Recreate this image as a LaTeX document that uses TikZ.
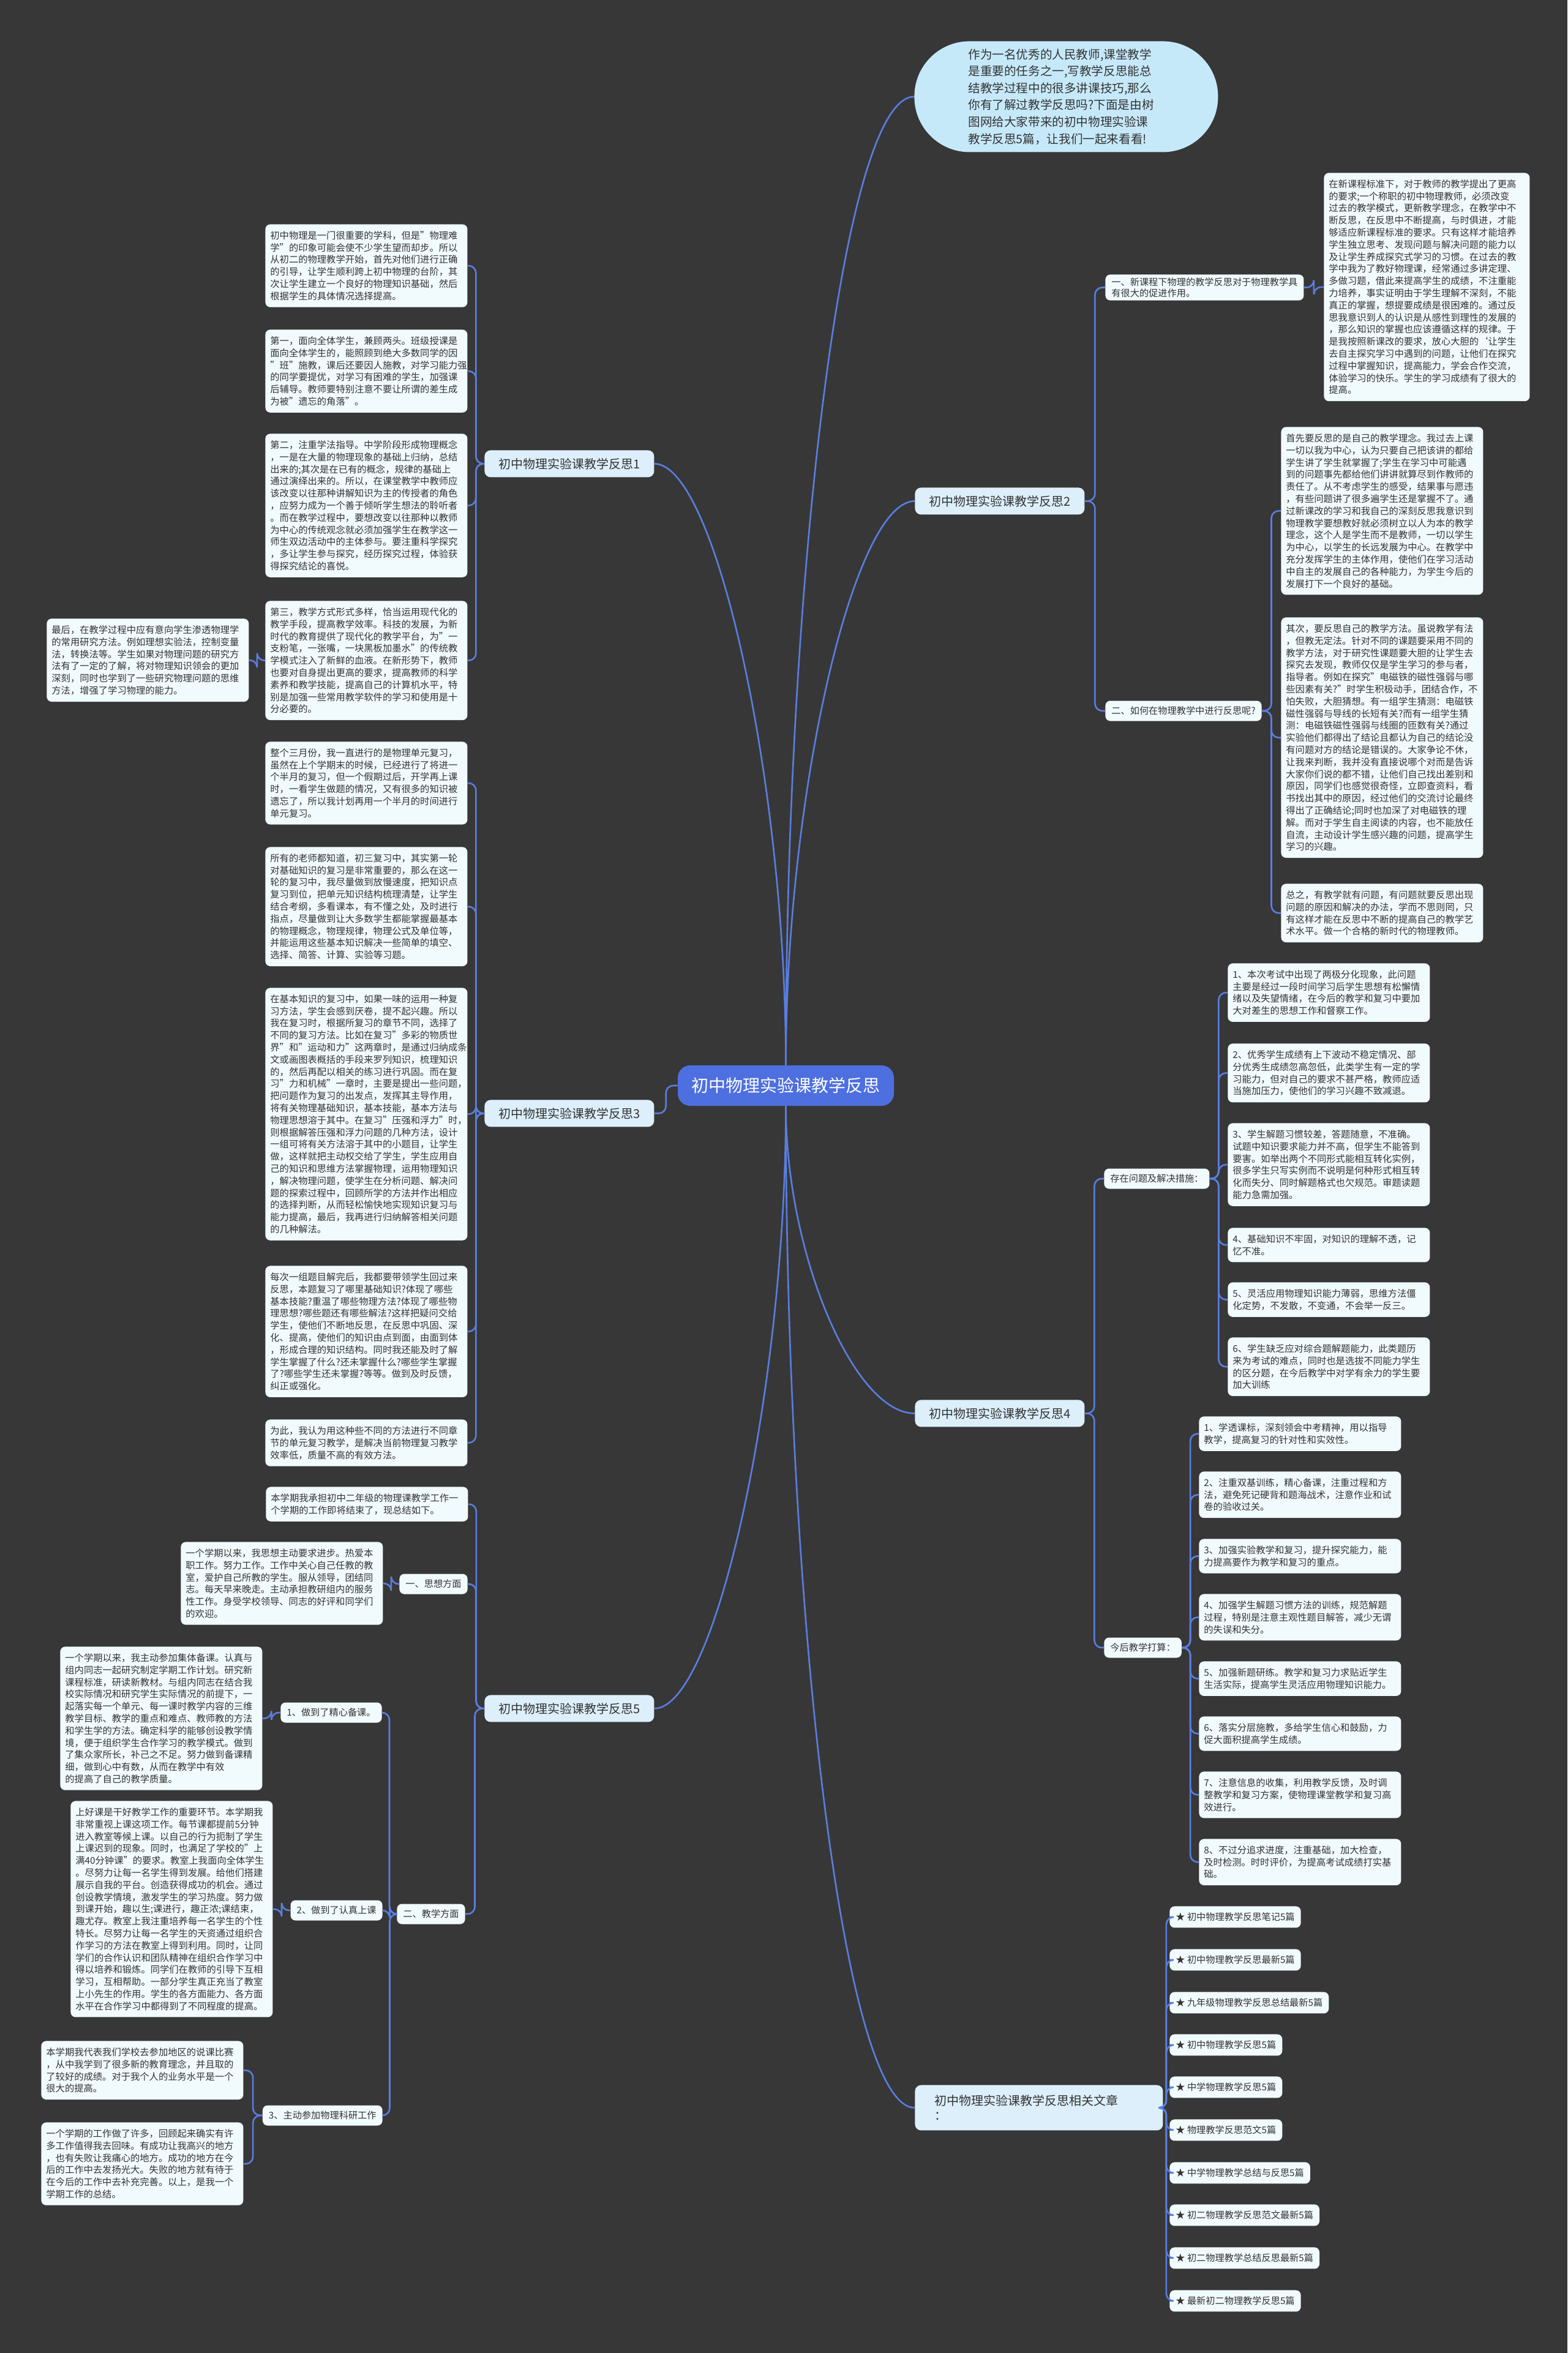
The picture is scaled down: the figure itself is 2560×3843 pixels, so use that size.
\documentclass[tikz,border=0pt]{standalone}
\usepackage{fontspec}
\setmainfont{Noto Sans CJK SC}
\definecolor{MAPbg}{HTML}{373737}
\definecolor{MAPline}{HTML}{5A7EE0}
\definecolor{MAProot}{HTML}{4D6FE0}
\definecolor{MAPtopic}{HTML}{DCEFFB}
\definecolor{MAPleaf}{HTML}{F1FAFD}
\definecolor{MAPintro}{HTML}{C6E9FA}
\definecolor{MAPtext}{HTML}{333333}
\usetikzlibrary{calc}

\begin{document}
\begin{tikzpicture}[x=0.5pt, y=-0.5pt,
      link/.style={draw=MAPline, line width=1.3pt},
      elbow/.style={link, rounded corners=6pt,
                    to path={-- ($(\tikztostart)!0.5!(\tikztostart -| \tikztotarget)$) |- (\tikztotarget) \tikztonodes}},
      root/.style={fill=MAProot, text=white, rounded corners=10pt, minimum width=176.5pt,
                   minimum height=33pt, font=\fontsize{14}{16}\selectfont},
      intro/.style={fill=MAPintro, rounded corners=45pt, anchor=north west, align=left,
                    text width=160pt, inner xsep=44pt, minimum height=90.5pt,
                    text=MAPtext, font=\fontsize{9.8}{13.8}\selectfont},
      topic/.style={fill=MAPtopic, rounded corners=5pt, anchor=north west, minimum width=138.5pt,
                    minimum height=22pt, text=MAPtext, font=\fontsize{10}{12}\selectfont},
      leaf/.style={fill=MAPleaf, rounded corners=4pt, anchor=north west, align=left,
                   text width=157pt, inner xsep=4pt, inner ysep=5.5pt,
                   text=MAPtext, font=\fontsize{7.65}{9.9}\selectfont},
      tag/.style={fill=MAPleaf, rounded corners=4pt, minimum height=16.5pt, inner xsep=5pt,
                  text=MAPtext, font=\fontsize{7.6}{9}\selectfont},
      item/.style={fill=MAPleaf, rounded corners=4pt, anchor=north west, minimum height=17.5pt,
                   inner xsep=5pt, text=MAPtext, font=\fontsize{7.6}{9}\selectfont}
   ]
      \fill[MAPbg] (0,0) rectangle (2560,3843);

      % centre and first level
      \node[root] (root) at (1283.5,1773) {初中物理实验课教学反思};
      \node[intro] (intro) at (1493,67) {作为一名优秀的人民教师,课堂教学\\
         是重要的任务之一,写教学反思能总\\
         结教学过程中的很多讲课技巧,那么\\
         你有了解过教学反思吗?下面是由树\\
         图网给大家带来的初中物理实验课\\
         教学反思5篇，让我们一起来看看!};
      \node[topic] (s1) at (791,735) {初中物理实验课教学反思1};
      \node[topic] (s2) at (1494,796) {初中物理实验课教学反思2};
      \node[topic] (s3) at (791,1796) {初中物理实验课教学反思3};
      \node[topic] (s4) at (1494,2286) {初中物理实验课教学反思4};
      \node[topic] (s5) at (791,2768) {初中物理实验课教学反思5};
      \node[topic, minimum width=202.5pt, minimum height=37pt, align=left, text width=170pt] (rel)
         at (1494,3405) {初中物理实验课教学反思相关文章\\：};

      \draw[link] (root.north) to[out=90, in=180, out distance=380pt, in distance=60pt] (intro.west);
      \draw[link] (root.north) to[out=90, in=180, out distance=220pt, in distance=50pt] (s2.west);
      \draw[link] (root.north) to[out=90, in=0, out distance=230pt, in distance=50pt] (s1.east);
      \draw[elbow] (root.west) to (s3.east);
      \draw[link] (root.south) to[out=270, in=180, out distance=120pt, in distance=50pt] (s4.west);
      \draw[link] (root.south) to[out=270, in=0, out distance=230pt, in distance=50pt] (s5.east);
      \draw[link] (root.south) to[out=270, in=180, out distance=400pt, in distance=60pt] (rel.west);

      % reflection 1
      \node[leaf] (a1) at (433,366) {初中物理是一门很重要的学科，但是"物理难\\
         学"的印象可能会使不少学生望而却步。所以\\
         从初二的物理教学开始，首先对他们进行正确\\
         的引导，让学生顺利跨上初中物理的台阶，其\\
         次让学生建立一个良好的物理知识基础，然后\\
         根据学生的具体情况选择提高。};
      \node[leaf] (a2) at (433,538) {第一，面向全体学生，兼顾两头。班级授课是\\
         面向全体学生的，能照顾到绝大多数同学的因\\
         "班"施教，课后还要因人施教，对学习能力强\\
         的同学要提优，对学习有困难的学生，加强课\\
         后辅导。教师要特别注意不要让所谓的差生成\\
         为被"遗忘的角落"。};
      \node[leaf] (a3) at (433,708) {第二，注重学法指导。中学阶段形成物理概念\\
         ，一是在大量的物理现象的基础上归纳，总结\\
         出来的;其次是在已有的概念，规律的基础上\\
         通过演绎出来的。所以，在课堂教学中教师应\\
         该改变以往那种讲解知识为主的传授者的角色\\
         ，应努力成为一个善于倾听学生想法的聆听者\\
         。而在教学过程中，要想改变以往那种以教师\\
         为中心的传统观念就必须加强学生在教学这一\\
         师生双边活动中的主体参与。要注重科学探究\\
         ，多让学生参与探究，经历探究过程，体验获\\
         得探究结论的喜悦。};
      \node[leaf] (a4) at (433,981) {第三，教学方式形式多样，恰当运用现代化的\\
         教学手段，提高教学效率。科技的发展，为新\\
         时代的教育提供了现代化的教学平台，为"一\\
         支粉笔，一张嘴，一块黑板加墨水"的传统教\\
         学模式注入了新鲜的血液。在新形势下，教师\\
         也要对自身提出更高的要求，提高教师的科学\\
         素养和教学技能，提高自己的计算机水平，特\\
         别是加强一些常用教学软件的学习和使用是十\\
         分必要的。};
      \node[leaf] (a5) at (76,1010) {最后，在教学过程中应有意向学生渗透物理学\\
         的常用研究方法。例如理想实验法，控制变量\\
         法，转换法等。学生如果对物理问题的研究方\\
         法有了一定的了解，将对物理知识领会的更加\\
         深刻，同时也学到了一些研究物理问题的思维\\
         方法，增强了学习物理的能力。};
      \draw[elbow] (s1.west) to (a1.east);
      \draw[elbow] (s1.west) to (a2.east);
      \draw[elbow] (s1.west) to (a3.east);
      \draw[elbow] (s1.west) to (a4.east);
      \draw[elbow] (a4.west) to (a5.east);

      % reflection 2
      \node[tag, anchor=north west, align=left, font=\fontsize{7.6}{9}\selectfont, inner ysep=2.5pt]
         (b1) at (1805,448) {一、新课程下物理的教学反思对于物理教学具\\有很大的促进作用。};
      \node[tag, anchor=west] (b2) at (1805,1161) {二、如何在物理教学中进行反思呢?};
      \node[leaf, text width=160pt] (b1a) at (2162,282) {在新课程标准下，对于教师的教学提出了更高\\
         的要求;一个称职的初中物理教师，必须改变\\
         过去的教学模式，更新教学理念，在教学中不\\
         断反思，在反思中不断提高，与时俱进，才能\\
         够适应新课程标准的要求。只有这样才能培养\\
         学生独立思考、发现问题与解决问题的能力以\\
         及让学生养成探究式学习的习惯。在过去的教\\
         学中我为了教好物理课，经常通过多讲定理、\\
         多做习题，借此来提高学生的成绩，不注重能\\
         力培养，事实证明由于学生理解不深刻，不能\\
         真正的掌握，想提要成绩是很困难的。通过反\\
         思我意识到人的认识是从感性到理性的发展的\\
         ，那么知识的掌握也应该遵循这样的规律。于\\
         是我按照新课改的要求，放心大胆的`让学生\\
         去自主探究学习中遇到的问题，让他们在探究\\
         过程中掌握知识，提高能力，学会合作交流，\\
         体验学习的快乐。学生的学习成绩有了很大的\\
         提高。};
      \node[leaf] (b2a) at (2092,697) {首先要反思的是自己的教学理念。我过去上课\\
         一切以我为中心，认为只要自己把该讲的都给\\
         学生讲了学生就掌握了;学生在学习中可能遇\\
         到的问题事先都给他们讲讲就算尽到作教师的\\
         责任了。从不考虑学生的感受，结果事与愿违\\
         ，有些问题讲了很多遍学生还是掌握不了。通\\
         过新课改的学习和我自己的深刻反思我意识到\\
         物理教学要想教好就必须树立以人为本的教学\\
         理念，这个人是学生而不是教师，一切以学生\\
         为中心，以学生的长远发展为中心。在教学中\\
         充分发挥学生的主体作用，使他们在学习活动\\
         中自主的发展自己的各种能力，为学生今后的\\
         发展打下一个良好的基础。};
      \node[leaf] (b2b) at (2092,1008) {其次，要反思自己的教学方法。虽说教学有法\\
         ，但教无定法。针对不同的课题要采用不同的\\
         教学方法，对于研究性课题要大胆的让学生去\\
         探究去发现，教师仅仅是学生学习的参与者，\\
         指导者。例如在探究"电磁铁的磁性强弱与哪\\
         些因素有关?"时学生积极动手，团结合作，不\\
         怕失败，大胆猜想。有一组学生猜测：电磁铁\\
         磁性强弱与导线的长短有关?而有一组学生猜\\
         测：电磁铁磁性强弱与线圈的匝数有关?通过\\
         实验他们都得出了结论且都认为自己的结论没\\
         有问题对方的结论是错误的。大家争论不休，\\
         让我来判断，我并没有直接说哪个对而是告诉\\
         大家你们说的都不错，让他们自己找出差别和\\
         原因，同学们也感觉很奇怪，立即查资料，看\\
         书找出其中的原因，经过他们的交流讨论最终\\
         得出了正确结论;同时也加深了对电磁铁的理\\
         解。而对于学生自主阅读的内容，也不能放任\\
         自流，主动设计学生感兴趣的问题，提高学生\\
         学习的兴趣。};
      \node[leaf] (b2c) at (2092,1443) {总之，有教学就有问题，有问题就要反思出现\\
         问题的原因和解决的办法，学而不思则罔，只\\
         有这样才能在反思中不断的提高自己的教学艺\\
         术水平。做一个合格的新时代的物理教师。};
      \draw[elbow] (s2.east) to (b1.west);
      \draw[elbow] (s2.east) to (b2.west);
      \draw[elbow] (b1.east) to (b1a.west);
      \draw[elbow] (b2.east) to (b2a.west);
      \draw[elbow] (b2.east) to (b2b.west);
      \draw[elbow] (b2.east) to (b2c.west);

      % reflection 3
      \node[leaf] (c1) at (433,1211) {整个三月份，我一直进行的是物理单元复习，\\
         虽然在上个学期末的时候，已经进行了将进一\\
         个半月的复习，但一个假期过后，开学再上课\\
         时，一看学生做题的情况，又有很多的知识被\\
         遗忘了，所以我计划再用一个半月的时间进行\\
         单元复习。};
      \node[leaf] (c2) at (433,1383) {所有的老师都知道，初三复习中，其实第一轮\\
         对基础知识的复习是非常重要的，那么在这一\\
         轮的复习中，我尽量做到放慢速度，把知识点\\
         复习到位，把单元知识结构梳理清楚，让学生\\
         结合考纲，多看课本，有不懂之处，及时进行\\
         指点，尽量做到让大多数学生都能掌握最基本\\
         的物理概念，物理规律，物理公式及单位等，\\
         并能运用这些基本知识解决一些简单的填空、\\
         选择、简答、计算、实验等习题。};
      \node[leaf] (c3) at (433,1613) {在基本知识的复习中，如果一味的运用一种复\\
         习方法，学生会感到厌卷，提不起兴趣。所以\\
         我在复习时，根据所复习的章节不同，选择了\\
         不同的复习方法。比如在复习"多彩的物质世\\
         界"和"运动和力"这两章时，是通过归纳成条\\
         文或画图表概括的手段来罗列知识，梳理知识\\
         的，然后再配以相关的练习进行巩固。而在复\\
         习"力和机械"一章时，主要是提出一些问题，\\
         把问题作为复习的出发点，发挥其主导作用，\\
         将有关物理基础知识，基本技能，基本方法与\\
         物理思想溶于其中。在复习"压强和浮力"时，\\
         则根据解答压强和浮力问题的几种方法，设计\\
         一组可将有关方法溶于其中的小题目，让学生\\
         做，这样就把主动权交给了学生，学生应用自\\
         己的知识和思维方法掌握物理，运用物理知识\\
         ，解决物理问题，使学生在分析问题、解决问\\
         题的探索过程中，回顾所学的方法并作出相应\\
         的选择判断，从而轻松愉快地实现知识复习与\\
         能力提高，最后，我再进行归纳解答相关问题\\
         的几种解法。};
      \node[leaf] (c4) at (433,2067) {每次一组题目解完后，我都要带领学生回过来\\
         反思，本题复习了哪里基础知识?体现了哪些\\
         基本技能?重温了哪些物理方法?体现了哪些物\\
         理思想?哪些题还有哪些解法?这样把疑问交给\\
         学生，使他们不断地反思，在反思中巩固、深\\
         化、提高，使他们的知识由点到面，由面到体\\
         ，形成合理的知识结构。同时我还能及时了解\\
         学生掌握了什么?还未掌握什么?哪些学生掌握\\
         了?哪些学生还未掌握?等等。做到及时反馈，\\
         纠正或强化。};
      \node[leaf] (c5) at (433,2318) {为此，我认为用这种些不同的方法进行不同章\\
         节的单元复习教学，是解决当前物理复习教学\\
         效率低，质量不高的有效方法。};
      \draw[elbow] (s3.west) to (c1.east);
      \draw[elbow] (s3.west) to (c2.east);
      \draw[elbow] (s3.west) to (c3.east);
      \draw[elbow] (s3.west) to (c4.east);
      \draw[elbow] (s3.west) to (c5.east);

      % reflection 4
      \node[tag, anchor=west] (e0) at (1803,1925) {存在问题及解决措施：};
      \node[tag, anchor=west] (f0) at (1803,2691) {今后教学打算：};
      \node[leaf] (e1) at (2005,1573) {1、本次考试中出现了两极分化现象，此问题\\
         主要是经过一段时间学习后学生思想有松懈情\\
         绪以及失望情绪，在今后的教学和复习中要加\\
         大对差生的思想工作和督察工作。};
      \node[leaf] (e2) at (2005,1704) {2、优秀学生成绩有上下波动不稳定情况、部\\
         分优秀生成绩忽高忽低，此类学生有一定的学\\
         习能力，但对自己的要求不甚严格，教师应适\\
         当施加压力，使他们的学习兴趣不致减退。};
      \node[leaf] (e3) at (2005,1834) {3、学生解题习惯较差，答题随意，不准确。\\
         试题中知识要求能力并不高，但学生不能答到\\
         要害。如举出两个不同形式能相互转化实例，\\
         很多学生只写实例而不说明是何种形式相互转\\
         化而失分、同时解题格式也欠规范。审题读题\\
         能力急需加强。};
      \node[leaf] (e4) at (2005,2005) {4、基础知识不牢固，对知识的理解不透，记\\
         忆不准。};
      \node[leaf] (e5) at (2005,2094) {5、灵活应用物理知识能力薄弱，思维方法僵\\
         化定势，不发散，不变通，不会举一反三。};
      \node[leaf] (e6) at (2005,2184) {6、学生缺乏应对综合题解题能力，此类题历\\
         来为考试的难点，同时也是选拔不同能力学生\\
         的区分题，在今后教学中对学有余力的学生要\\
         加大训练};
      \node[leaf] (f1) at (1958,2313) {1、学透课标，深刻领会中考精神，用以指导\\
         教学，提高复习的针对性和实效性。};
      \node[leaf] (f2) at (1958,2403) {2、注重双基训练，精心备课，注重过程和方\\
         法，避免死记硬背和题海战术，注意作业和试\\
         卷的验收过关。};
      \node[leaf] (f3) at (1958,2513) {3、加强实验教学和复习，提升探究能力，能\\
         力提高要作为教学和复习的重点。};
      \node[leaf] (f4) at (1958,2603) {4、加强学生解题习惯方法的训练，规范解题\\
         过程，特别是注意主观性题目解答，减少无谓\\
         的失误和失分。};
      \node[leaf] (f5) at (1958,2713) {5、加强新题研练。教学和复习力求贴近学生\\
         生活实际，提高学生灵活应用物理知识能力。};
      \node[leaf] (f6) at (1958,2803) {6、落实分层施教，多给学生信心和鼓励，力\\
         促大面积提高学生成绩。};
      \node[leaf] (f7) at (1958,2893) {7、注意信息的收集，利用教学反馈，及时调\\
         整教学和复习方案，使物理课堂教学和复习高\\
         效进行。};
      \node[leaf] (f8) at (1958,3003) {8、不过分追求进度，注重基础，加大检查，\\
         及时检测。时时评价，为提高考试成绩打实基\\
         础。};
      \draw[elbow] (s4.east) to (e0.west);
      \draw[elbow] (s4.east) to (f0.west);
      \draw[elbow] (e0.east) to (e1.west);
      \draw[elbow] (e0.east) to (e2.west);
      \draw[elbow] (e0.east) to (e3.west);
      \draw[elbow] (e0.east) to (e4.west);
      \draw[elbow] (e0.east) to (e5.west);
      \draw[elbow] (e0.east) to (e6.west);
      \draw[elbow] (f0.east) to (f1.west);
      \draw[elbow] (f0.east) to (f2.west);
      \draw[elbow] (f0.east) to (f3.west);
      \draw[elbow] (f0.east) to (f4.west);
      \draw[elbow] (f0.east) to (f5.west);
      \draw[elbow] (f0.east) to (f6.west);
      \draw[elbow] (f0.east) to (f7.west);
      \draw[elbow] (f0.east) to (f8.west);

      % reflection 5
      \node[leaf] (d0) at (434,2428) {本学期我承担初中二年级的物理课教学工作一\\
         个学期的工作即将结束了，现总结如下。};
      \node[tag, anchor=east] (g1) at (764,2587) {一、思想方面};
      \node[tag, anchor=east] (g2) at (760,3126) {二、教学方面};
      \node[leaf] (g1a) at (295,2518) {一个学期以来，我思想主动要求进步。热爱本\\
         职工作。努力工作。工作中关心自己任教的教\\
         室，爱护自己所教的学生。服从领导，团结同\\
         志。每天早来晚走。主动承担教研组内的服务\\
         性工作。身受学校领导、同志的好评和同学们\\
         的欢迎。};
      \node[tag, anchor=east] (h1) at (624,2797) {1、做到了精心备课。};
      \node[tag, anchor=east] (h2) at (625,3120) {2、做到了认真上课};
      \node[tag, anchor=east] (h3) at (625,3455) {3、主动参加物理科研工作};
      \node[leaf] (h1a) at (98,2689) {一个学期以来，我主动参加集体备课。认真与\\
         组内同志一起研究制定学期工作计划。研究新\\
         课程标准，研读新教材。与组内同志在结合我\\
         校实际情况和研究学生实际情况的前提下，一\\
         起落实每一个单元、每一课时教学内容的三维\\
         教学目标、教学的重点和难点、教师教的方法\\
         和学生学的方法。确定科学的能够创设教学情\\
         境，便于组织学生合作学习的教学模式。做到\\
         了集众家所长，补己之不足。努力做到备课精\\
         细，做到心中有数，从而在教学中有效\\
         的提高了自己的教学质量。};
      \node[leaf] (h2a) at (115,2941) {上好课是干好教学工作的重要环节。本学期我\\
         非常重视上课这项工作。每节课都提前5分钟\\
         进入教室等候上课。以自己的行为扼制了学生\\
         上课迟到的现象。同时，也满足了学校的"上\\
         满40分钟课"的要求。教室上我面向全体学生\\
         。尽努力让每一名学生得到发展。给他们搭建\\
         展示自我的平台。创造获得成功的机会。通过\\
         创设教学情境，激发学生的学习热度。努力做\\
         到课开始，趣以生;课进行，趣正浓;课结束，\\
         趣尤存。教室上我注重培养每一名学生的个性\\
         特长。尽努力让每一名学生的天资通过组织合\\
         作学习的方法在教室上得到利用。同时，让同\\
         学们的合作认识和团队精神在组织合作学习中\\
         得以培养和锻炼。同学们在教师的引导下互相\\
         学习，互相帮助。一部分学生真正充当了教室\\
         上小先生的作用。学生的各方面能力、各方面\\
         水平在合作学习中都得到了不同程度的提高。};
      \node[leaf] (h3a) at (67,3333) {本学期我代表我们学校去参加地区的说课比赛\\
         ，从中我学到了很多新的教育理念，并且取的\\
         了较好的成绩。对于我个人的业务水平是一个\\
         很大的提高。};
      \node[leaf] (h3b) at (67,3466) {一个学期的工作做了许多，回顾起来确实有许\\
         多工作值得我去回味。有成功让我高兴的地方\\
         ，也有失败让我痛心的地方。成功的地方在今\\
         后的工作中去发扬光大。失败的地方就有待于\\
         在今后的工作中去补充完善。以上，是我一个\\
         学期工作的总结。};
      \draw[elbow] (s5.west) to (d0.east);
      \draw[elbow] (s5.west) to (g1.east);
      \draw[elbow] (s5.west) to (g2.east);
      \draw[elbow] (g1.west) to (g1a.east);
      \draw[elbow] (g2.west) to (h1.east);
      \draw[elbow] (g2.west) to (h2.east);
      \draw[elbow] (g2.west) to (h3.east);
      \draw[elbow] (h1.west) to (h1a.east);
      \draw[elbow] (h2.west) to (h2a.east);
      \draw[elbow] (h3.west) to (h3a.east);
      \draw[elbow] (h3.west) to (h3b.east);

      % related articles
      \node[item] (r1) at (1910,3113) {★ 初中物理教学反思笔记5篇};
      \node[item] (r2) at (1910,3183) {★ 初中物理教学反思最新5篇};
      \node[item] (r3) at (1910,3253) {★ 九年级物理教学反思总结最新5篇};
      \node[item] (r4) at (1910,3322) {★ 初中物理教学反思5篇};
      \node[item] (r5) at (1910,3391) {★ 中学物理教学反思5篇};
      \node[item] (r6) at (1910,3461) {★ 物理教学反思范文5篇};
      \node[item] (r7) at (1910,3531) {★ 中学物理教学总结与反思5篇};
      \node[item] (r8) at (1910,3600) {★ 初二物理教学反思范文最新5篇};
      \node[item] (r9) at (1910,3670) {★ 初二物理教学总结反思最新5篇};
      \node[item] (r10) at (1910,3740) {★ 最新初二物理教学反思5篇};
      \draw[elbow] (rel.east) to (r1.west);
      \draw[elbow] (rel.east) to (r2.west);
      \draw[elbow] (rel.east) to (r3.west);
      \draw[elbow] (rel.east) to (r4.west);
      \draw[elbow] (rel.east) to (r5.west);
      \draw[elbow] (rel.east) to (r6.west);
      \draw[elbow] (rel.east) to (r7.west);
      \draw[elbow] (rel.east) to (r8.west);
      \draw[elbow] (rel.east) to (r9.west);
      \draw[elbow] (rel.east) to (r10.west);
   \end{tikzpicture}
\end{document}
